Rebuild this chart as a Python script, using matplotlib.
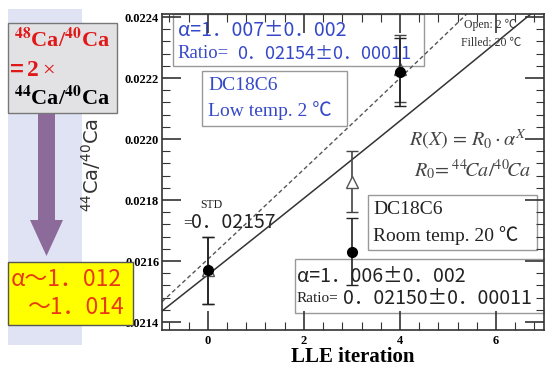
import matplotlib
matplotlib.use("Agg")
import matplotlib.pyplot as plt
import numpy as np
from matplotlib.patches import Rectangle, FancyArrow
from matplotlib.ticker import MultipleLocator, FormatStrFormatter

# --- Data ---
iteration = [0, 3, 4]
ratio_filled = [0.02157, 0.02163, 0.02222]   # 20 C (filled circles)
err_filled = [0.00011, 0.00011, 0.00011]
ratio_open = [0.02157, 0.02186, 0.02223]     # 2 C (open triangles)
err_open = [0.00011, 0.00010, 0.00011]

# fitted lines R(X) = R0 * alpha^X
fit_room = (0.021555, 1.0058)   # solid
fit_low = (0.021606, 1.0068)    # dashed

W, H = 545, 369
SERIF = ['Liberation Serif', 'Noto Sans CJK JP']
GOTH = ['Noto Sans CJK JP', 'DejaVu Sans']
BLUE = '#3548c8'

fig = plt.figure(figsize=(W / 100, H / 100), dpi=100)


def fx(x):
    return x / W


def fy(y):
    return 1 - y / H


def box(x0, y0, x1, y1, edge='#999999', face='white', z=1):
    fig.patches.append(Rectangle((fx(x0), fy(y1)), fx(x1 - x0), fy(y0) - fy(y1),
                                 transform=fig.transFigure, facecolor=face, edgecolor=edge,
                                 lw=1.0, zorder=z))


def txt(x, y, s, z=1.5, **kw):
    kw.setdefault('va', 'center')
    fig.text(fx(x), fy(y), s, zorder=z, **kw)


# left decorative panel
fig.patches.append(Rectangle((fx(8), fy(345)), fx(74), fy(9) - fy(345), transform=fig.transFigure,
                             facecolor='#dfe3f4', edgecolor='none', zorder=0.5))

ax = fig.add_axes([fx(162), fy(330), fx(544 - 162), fy(14) - fy(330)])
ax.set_zorder(2)
ax.patch.set_visible(False)
ax.set_xlim(-0.955, 7.0)
ax.set_ylim(0.021374, 0.02241)

xs = np.linspace(-0.955, 7.0, 200)
ax.plot(xs, fit_room[0] * fit_room[1] ** xs, color='#333333', lw=1.1, zorder=2)
ax.plot(xs, fit_low[0] * fit_low[1] ** xs, color='#555555', lw=1.0, ls=(0, (3, 2)), zorder=2)

ax.errorbar(iteration, ratio_open, yerr=err_open, fmt='^', ms=9, mfc='white', mec='#555555',
            mew=1.0, ecolor='#444444', elinewidth=1.2, capsize=4, capthick=1.0, zorder=3)
ax.errorbar(iteration, ratio_filled, yerr=err_filled, fmt='o', ms=7, color='black',
            ecolor='#222222', elinewidth=1.2, capsize=4, capthick=1.0, zorder=4)

ax.xaxis.set_major_locator(MultipleLocator(2))
ax.xaxis.set_minor_locator(MultipleLocator(0.4))
ax.yaxis.set_major_locator(MultipleLocator(0.0002))
ax.yaxis.set_minor_locator(MultipleLocator(0.00004))
ax.yaxis.set_major_formatter(FormatStrFormatter('%.4f'))
ax.tick_params(which='both', direction='in', top=True, right=True, color='#333333')
ax.tick_params(which='major', length=14, width=1.2)
ax.tick_params(which='minor', length=6, width=0.8)
ax.tick_params(axis='y', which='major', pad=2)
for lab in ax.get_xticklabels() + ax.get_yticklabels():
    lab.set_fontfamily(SERIF)
    lab.set_fontweight('bold')
    lab.set_fontsize(9)
for s in ax.spines.values():
    s.set_color('#333333')
    s.set_linewidth(1.2)

ax.set_xlabel('LLE iteration', fontfamily=SERIF, fontweight='bold', fontsize=15, labelpad=0)
txt(91, 165, r'$^{44}$Ca/$^{40}$Ca', z=3, rotation=90, ha='center',
    fontsize=14, color='#333333', family='DejaVu Sans')

# --- boxes inside the plot (under the data) ---
box(173, 14, 424, 66)
txt(178, 31, 'α=1．007±0．002', color=BLUE, fontsize=14, family=GOTH)
txt(177, 54, 'Ratio=', color=BLUE, fontsize=13.5, family=SERIF)
txt(237, 54, '0．02154±0．00011', color=BLUE, fontsize=13, family=GOTH)

box(202, 71, 347, 126)
txt(208, 86, 'DC18C6', color=BLUE, fontsize=14, family=SERIF)
txt(208, 111, 'Low temp. 2 ℃', color=BLUE, fontsize=14, family=SERIF)

txt(464, 25, 'Open: 2 ℃', color='#333333', fontsize=8.5, family=SERIF)
txt(461, 43, 'Filled: 20 ℃', color='#333333', fontsize=8.5, family=SERIF)

txt(409, 139, r'$R(X)\,=\,R_0\cdot\alpha^X$', color='#444444', fontsize=14.5,
    math_fontfamily='stix')
txt(414, 170, r'$R_0\!=^{44}\!Ca/^{40}\!Ca$', color='#444444', fontsize=14.5,
    math_fontfamily='stix')

txt(200, 205, 'STD', color='#222222', fontsize=8.5, family=SERIF)
txt(183, 223, '=', color='#222222', fontsize=11, family=SERIF)
txt(191, 223, '0．02157', color='#222222', fontsize=14, family=GOTH)

box(368, 195, 537, 250)
txt(373, 210, 'DC18C6', color='#222222', fontsize=14, family=SERIF)
txt(373, 236, 'Room temp. 20 ℃', color='#222222', fontsize=14, family=SERIF)

box(295, 259, 560, 313)
txt(297, 276, 'α=1．006±0．002', color='#222222', fontsize=14, family=GOTH)
txt(297, 299, 'Ratio=', color='#222222', fontsize=11, family=SERIF)
txt(343, 299, '0．02150±0．00011', color='#222222', fontsize=14, family=GOTH)

# --- left panel annotations (above the axes) ---
box(8, 23, 117, 113, edge='#777777', face='#e2e2e4', z=5)
txt(62, 40, r'$^{\mathbf{48}}$Ca/$^{\mathbf{40}}$Ca', z=6, color='#e01818', fontsize=16,
    family=SERIF, fontweight='bold', ha='center', math_fontfamily='stix')
txt(10, 70, '=', z=6, color='#e01818', fontsize=17, family='Liberation Sans', fontweight='bold')
txt(27, 71, '2', z=6, color='#e01818', fontsize=17, family=SERIF, fontweight='bold')
txt(42, 71, '×', z=6, color='#e01818', fontsize=16, family=SERIF)
txt(62, 98, r'$^{\mathbf{44}}$Ca/$^{\mathbf{40}}$Ca', z=6, color='black', fontsize=16,
    family=SERIF, fontweight='bold', ha='center', math_fontfamily='stix')

fig.patches.append(FancyArrow(fx(46.5), fy(114), 0, fy(256) - fy(114), width=fx(17),
                              head_width=fx(33), head_length=(fy(220) - fy(256)),
                              length_includes_head=True, transform=fig.transFigure,
                              facecolor='#8c6b9a', edgecolor='none', zorder=5))

box(8, 262, 133, 325, edge='#555555', face='#ffff00', z=5)
txt(11, 280, 'α～1．012', z=6, color='#e83a10', fontsize=16.5, family=GOTH)
txt(27, 308, '～1．014', z=6, color='#e83a10', fontsize=16.5, family=GOTH)

fig.savefig('out.png', dpi=100)
